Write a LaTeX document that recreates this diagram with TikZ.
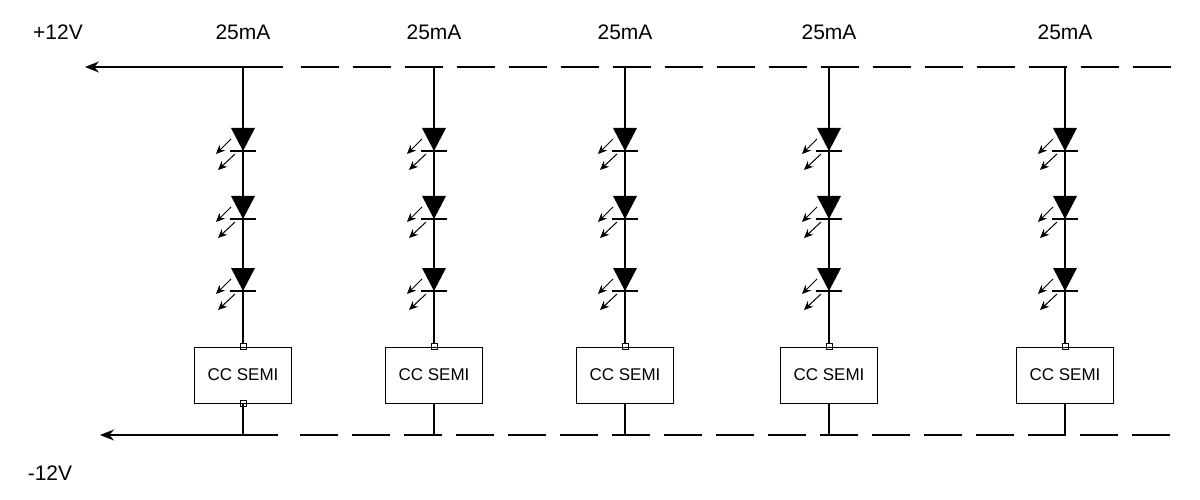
\documentclass[tikz,border=0pt]{standalone}
\usepackage{fontspec}
\setmainfont{Liberation Sans}
\usetikzlibrary{arrows.meta}
\begin{document}
\begin{tikzpicture}[x=1pt,y=-1pt,line width=1.2pt,
  lbl/.style={font=\fontsize{21}{23}\selectfont},
  ccbox/.style={draw,line width=1pt,minimum width=97pt,minimum height=56pt,inner sep=0pt,font=\fontsize{17}{19}\selectfont},
  term/.style={draw,line width=0.8pt,minimum size=6pt,inner sep=0pt},
  rail/.style={line width=1.2pt},
  dashrail/.style={line width=1.2pt,dash pattern=on 38pt off 14pt},
  em/.style={line width=1pt,-{Stealth[length=9pt,width=8pt]}}]
\useasboundingbox (0,0) rectangle (1200,500);
\node[lbl] (pv) at (58,32) {+12V};
\node[lbl] (mv) at (50,473) {-12V};
\coordinate (ta) at (85,67); \coordinate (ts) at (283,67); \coordinate (te) at (1185,67);
\coordinate (ba) at (100,435); \coordinate (bs) at (278,435); \coordinate (be) at (1182,435);
\draw[rail,-{Stealth[length=14pt,width=11pt]}] (ts) -- (ta);
\draw[dashrail] (ts) ++(18,0) -- (te);
\draw[rail,-{Stealth[length=14pt,width=11pt]}] (bs) -- (ba);
\draw[dashrail] (bs) ++(22,0) -- (be);
\foreach \i/\x in {1/243,2/434,3/625,4/829,5/1065}{
  \node[lbl] (c\i) at (\x,32) {25mA};
  \coordinate (top\i) at (\x,67);
  \coordinate (bot\i) at (\x,435);
  \node[ccbox] (box\i) at (\x,375) {CC SEMI};
  \node[term] (tt\i) at (box\i.north) {};
  \draw (top\i) -- (tt\i);
  \draw (box\i.south) -- (bot\i);
  \foreach \y in {128,196,268}{
    \fill (\x-12,\y) -- (\x+12,\y) -- (\x,\y+23) -- cycle;
    \draw (\x-13,\y+23) -- (\x+13,\y+23);
    \draw[em] (\x-12,\y+11) -- (\x-27,\y+26);
    \draw[em] (\x-8,\y+26) -- (\x-25,\y+42);
  }
}
\node[term] at (box1.south) {};
\end{tikzpicture}
\end{document}
